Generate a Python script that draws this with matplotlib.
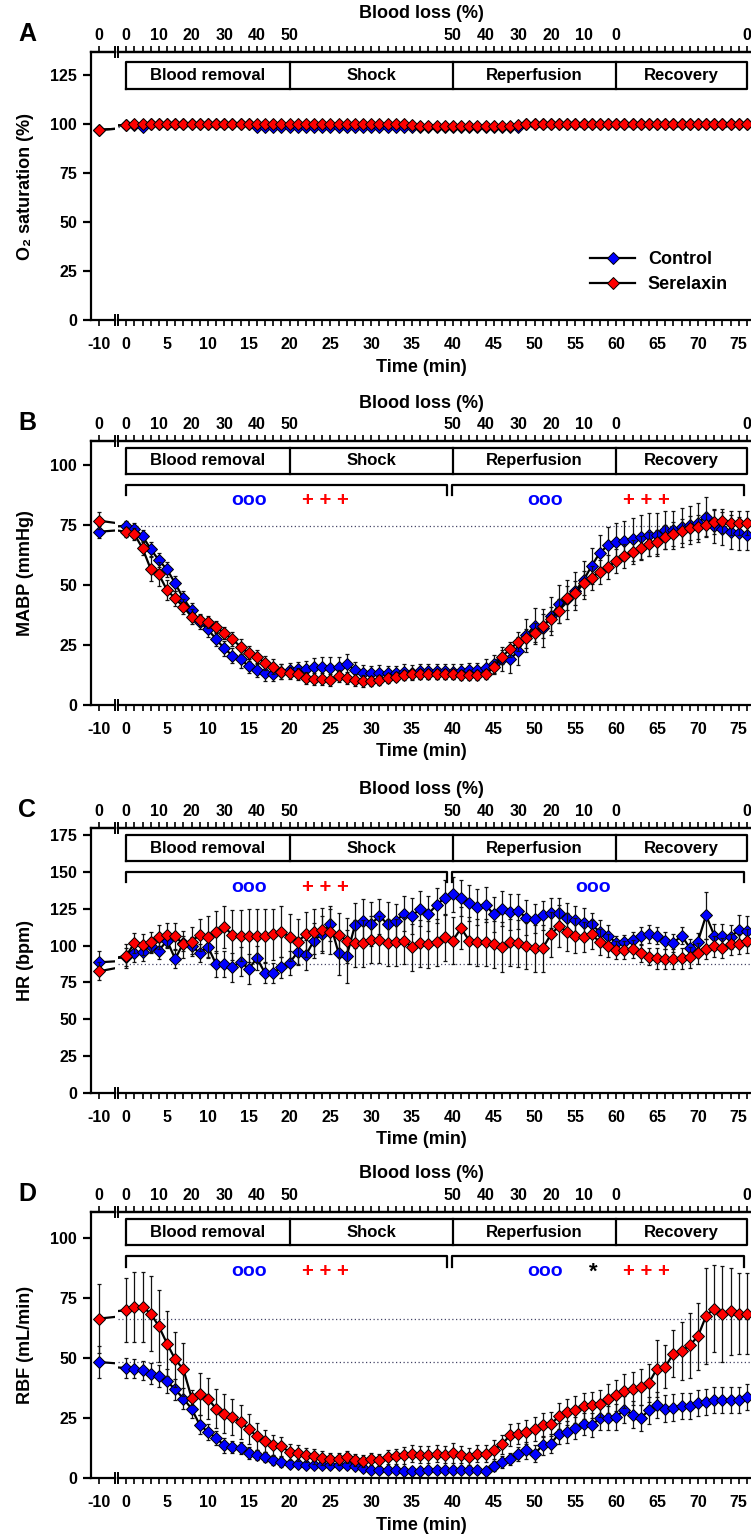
import matplotlib
matplotlib.use('Agg')
import matplotlib.pyplot as plt
from matplotlib.lines import Line2D

plt.rcParams['font.family'] = ['Liberation Sans', 'DejaVu Sans']
plt.rcParams['font.weight'] = 'bold'

# ---------------- data ----------------
time_base = -10
minutes = list(range(0, 77))
time_tick_pos = [0, 5, 10, 15, 20, 25, 30, 35, 40, 45, 50, 55, 60, 65, 70, 75]
blood_loss_pos = [0, 4, 8, 12, 16, 20, 40, 44, 48, 52, 56, 60, 76]
blood_loss_lab = ["0", "10", "20", "30", "40", "50", "50", "40", "30", "20", "10", "0", "0"]
phases = ["Blood removal", "Shock", "Reperfusion", "Recovery"]
phase_edges = [0, 20, 40, 60, 76]

# Panel A: O2 saturation (%)
a_ctrl_base = 97.0
a_ctrl = [99.5, 99.5, 98.5, 99.8, 100, 100, 100, 100, 100, 100,
          100, 100, 100, 100, 100, 100, 98.5, 98.5, 98.5, 98.5,
          98.5, 98.5, 98.5, 98.5, 98.5, 98.5, 98.5, 98.5, 98.5, 98.5,
          98.5, 98.5, 98.5, 98.5, 98.5, 98.5, 98.5, 98.5, 98.5, 98.5,
          98.5, 98.5, 98.5, 98.5, 98.5, 98.5, 98.5, 98.5, 98.5, 100,
          100, 100, 100, 100, 100, 100, 100, 100, 100, 100,
          100, 100, 100, 100, 100, 100, 100, 100, 100, 100,
          100, 100, 100, 100, 100, 100, 100]
a_sl_base = 97.0
a_sl = [99.5, 100, 100, 100, 100, 100, 100, 100, 100, 100,
        100, 100, 100, 100, 100, 100, 100, 100, 100, 100,
        100, 100, 100, 100, 100, 100, 100, 100, 100, 100,
        100, 100, 100, 100, 100, 99.5, 99, 99, 99, 99,
        99, 99, 99, 99, 99, 99, 99, 99, 99.5, 100,
        100, 100, 100, 100, 100, 100, 100, 100, 100, 100,
        100, 100, 100, 100, 100, 100, 100, 100, 100, 100,
        100, 100, 100, 100, 100, 100, 100]

# Panel B: MABP (mmHg)
b_ctrl_base, b_ctrl_base_err = 72.2, 2.5
b_ctrl = [74.7, 73.3, 70.4, 65.0, 60.3, 56.5, 50.7, 44.4, 39.6, 34.7,
          31.5, 27.5, 23.6, 20.6, 19.0, 16.3, 14.6, 13.2, 12.9, 13.9,
          14.6, 14.9, 14.9, 15.7, 15.7, 15.4, 15.7, 17.1, 14.6, 13.5,
          13.2, 13.5, 13.2, 13.2, 13.9, 13.5, 14.0, 14.0, 14.0, 14.0,
          13.9, 14.2, 14.6, 14.6, 15.5, 17.0, 19.0, 19.0, 22.5, 29.0,
          33.0, 32.0, 37.0, 42.0, 44.0, 47.5, 52.0, 58.0, 63.5, 66.5,
          68.0, 68.5, 69.0, 70.0, 71.0, 71.0, 73.0, 73.0, 74.0, 75.0,
          76.0, 78.5, 74.5, 73.5, 72.0, 71.5, 71.0]
b_ctrl_err = [2, 2.5, 2.5, 3, 3, 3, 3, 3, 3, 3,
              3, 3, 3, 3, 3.5, 3, 3, 3, 3, 3,
              3, 3, 3.5, 4, 4.5, 4.5, 4.5, 4, 3.5, 3,
              3, 3, 3, 3, 3, 3, 3, 3, 3, 3,
              3, 3, 3, 3, 3.5, 4, 5, 5.5, 6, 7,
              7.5, 8, 8, 8, 8, 8, 8, 7.5, 7.5, 7.5,
              8, 8, 9, 9, 9, 9, 8, 8, 8, 8,
              8, 8, 7, 7, 7, 7, 6.5]
b_sl_base, b_sl_base_err = 76.8, 3.5
b_sl = [72.2, 71.2, 65.3, 56.7, 54.4, 47.9, 44.4, 41.0, 36.8, 35.4,
        34.4, 32.6, 29.9, 27.4, 24.3, 21.5, 19.9, 17.6, 16.0, 13.9,
        13.2, 12.9, 11.4, 10.8, 10.8, 10.4, 12.1, 11.4, 10.4, 10.0,
        10.0, 10.4, 11.1, 11.8, 12.5, 12.8, 12.8, 12.8, 12.8, 12.8,
        12.8, 12.5, 12.5, 12.5, 12.8, 15.7, 20.1, 23.2, 26.4, 27.8,
        30.1, 33.0, 36.0, 39.2, 44.4, 46.5, 50.7, 53.0, 55.6, 57.4,
        60.1, 62.2, 63.6, 65.6, 66.9, 67.8, 70.1, 71.1, 72.6, 73.6,
        74.3, 75.0, 76.1, 76.7, 76.0, 75.7, 75.7]
b_sl_err = [2, 2.5, 3, 5, 5, 4, 3, 3, 3, 2.5,
            2.5, 2.5, 2.5, 3, 3, 3, 3, 3, 3, 3,
            2.5, 2.5, 2.5, 2.5, 2.5, 2.5, 2.5, 2.5, 2.5, 2.5,
            2, 2, 2, 2, 2, 2, 2, 2, 2, 2,
            2, 2, 2, 2, 2, 2.5, 3, 3, 4, 4,
            4, 5, 5, 5, 5, 5, 5, 5, 5, 5,
            5, 5, 5, 5, 5, 5, 5, 5, 5, 5,
            5, 5, 5, 5, 5, 5, 5]

# Panel C: HR (bpm)
c_ctrl_base, c_ctrl_base_err = 88.6, 8
c_ctrl = [92.0, 94.8, 95.5, 100.0, 96.6, 103.4, 90.9, 101.6, 100.0, 94.8,
          99.3, 87.5, 87.5, 85.2, 89.1, 84.1, 91.4, 81.4, 81.4, 85.2,
          88.2, 95.5, 93.6, 103.4, 108.0, 114.8, 95.0, 92.7, 113.6, 116.4,
          114.8, 119.8, 114.8, 116.4, 121.6, 120.0, 125.0, 121.6, 127.3, 132.5,
          134.8, 132.3, 128.9, 126.1, 127.7, 121.1, 125.0, 122.7, 123.2, 118.9,
          118.2, 120.5, 122.0, 122.0, 118.6, 117.0, 115.2, 114.3, 109.1, 106.8,
          101.6, 102.3, 103.9, 106.4, 108.0, 106.8, 103.4, 101.6, 106.8, 98.4,
          102.7, 120.5, 106.8, 106.8, 105.7, 110.7, 109.8]
c_ctrl_err = [6, 6, 6, 5, 6, 5, 6, 5, 6, 6,
              7, 9, 9, 10, 10, 10, 8, 7, 7, 7,
              8, 9, 10, 12, 12, 12, 15, 18, 15, 15,
              15, 12, 15, 12, 12, 12, 12, 12, 12, 12,
              12, 12, 12, 12, 12, 12, 12, 12, 12, 12,
              10, 10, 10, 10, 10, 10, 10, 8, 8, 7,
              5, 5, 5, 6, 6, 6, 6, 6, 6, 6,
              6, 16, 8, 8, 8, 10, 10]
c_sl_base, c_sl_base_err = 82.5, 6
c_sl = [93.0, 101.6, 100.5, 102.3, 105.7, 107.3, 106.4, 100.7, 102.7, 107.3,
        105.7, 109.1, 112.5, 107.3, 106.8, 106.8, 106.8, 106.8, 107.5, 109.5,
        105.7, 102.7, 107.5, 109.5, 110.2, 109.5, 107.3, 103.4, 101.6, 101.6,
        104.0, 104.0, 101.8, 102.3, 103.4, 98.9, 101.6, 100.7, 102.3, 105.7,
        103.4, 111.8, 103.4, 102.3, 102.3, 100.7, 98.9, 102.3, 101.6, 100.0,
        98.2, 98.2, 107.5, 113.2, 109.1, 106.8, 105.7, 107.5, 102.3, 100.0,
        97.0, 97.0, 97.7, 94.8, 92.5, 91.4, 90.9, 90.9, 91.4, 92.0,
        94.8, 97.7, 99.5, 98.4, 100.7, 101.1, 103.0]
c_sl_err = [8, 7, 7, 7, 8, 8, 9, 9, 10, 11,
            14, 14, 14, 17, 17, 18, 18, 18, 17, 17,
            16, 15, 15, 15, 15, 15, 15, 15, 16, 16,
            16, 16, 16, 16, 16, 16, 16, 16, 16, 16,
            16, 14, 16, 16, 16, 16, 17, 16, 16, 16,
            16, 16, 15, 14, 13, 12, 10, 10, 9, 8,
            6, 6, 6, 6, 6, 7, 7, 7, 7, 7,
            7, 7, 7, 7, 7, 7, 8]

# Panel D: RBF (mL/min)
d_ctrl_base, d_ctrl_base_err = 48.3, 6.5
d_ctrl = [45.8, 45.6, 44.9, 43.5, 42.4, 40.3, 36.9, 33.1, 28.9, 22.2,
          19.2, 16.7, 13.6, 12.9, 12.5, 10.4, 9.7, 8.8, 7.4, 6.7,
          6.0, 6.0, 5.6, 5.6, 5.6, 5.3, 5.3, 5.3, 4.9, 4.2,
          3.5, 3.5, 3.2, 3.5, 2.9, 2.9, 2.9, 3.2, 3.2, 3.2,
          3.2, 3.5, 3.5, 3.5, 2.9, 4.9, 6.7, 8.1, 10.1, 11.5,
          10.1, 13.6, 14.3, 18.5, 19.2, 20.8, 22.4, 21.9, 25.0, 25.0,
          25.4, 28.5, 26.4, 25.0, 28.2, 30.3, 28.9, 29.3, 29.9, 29.9,
          31.3, 31.7, 32.4, 32.4, 32.6, 32.6, 33.8]
d_ctrl_err = [4, 4, 4, 4.5, 4.5, 5, 4.5, 4.5, 4, 4,
              3.5, 3, 3, 2.5, 2.5, 2.5, 2, 2, 2, 2,
              1.5, 1.5, 1.5, 1.5, 1.5, 1.5, 1.5, 1.5, 1.5, 1.5,
              1.5, 1.5, 1.5, 1.5, 1.5, 1.5, 1.5, 1.5, 1.5, 1.5,
              1.5, 1.5, 1.5, 1.5, 1.5, 2, 2.5, 2.5, 3, 3.5,
              3.5, 4, 4, 4.5, 4.5, 4.5, 4.5, 5, 5, 5,
              5.5, 5.5, 5.5, 5.5, 5.5, 5.5, 5.5, 5.5, 5.5, 5.5,
              5.5, 5.5, 5.5, 5.5, 5.5, 5.5, 5.5]
d_sl_base, d_sl_base_err = 66.4, 14.5
d_sl = [69.9, 71.3, 71.3, 68.5, 63.2, 56.0, 49.4, 45.3, 33.5, 35.1,
        33.1, 28.9, 26.8, 25.4, 23.3, 20.4, 17.4, 15.3, 13.6, 13.2,
        10.8, 10.4, 9.7, 9.0, 8.3, 8.1, 8.1, 8.8, 7.6, 6.9,
        8.1, 7.4, 8.8, 9.0, 9.4, 10.1, 9.7, 9.7, 10.1, 9.7,
        10.4, 9.7, 8.8, 10.1, 10.1, 11.8, 14.0, 17.8, 18.5, 19.2,
        20.6, 21.9, 22.4, 25.8, 27.5, 28.5, 29.9, 30.3, 31.0, 33.1,
        34.4, 36.3, 37.2, 37.9, 39.6, 45.6, 46.3, 51.8, 52.8, 55.3,
        59.0, 67.5, 70.6, 68.2, 69.4, 68.5, 68.5]
d_sl_err = [13.3, 14.7, 14.7, 15.5, 15, 13.6, 11.4, 11, 3, 8.7,
            8.6, 8, 8, 7.6, 7, 6.4, 5.6, 4.5, 4.5, 4,
            3.5, 3.5, 3, 3, 3, 2.5, 2.5, 2.5, 2.5, 2.5,
            2.5, 2.5, 3, 3, 3.5, 3.5, 3.5, 3.5, 3.5, 3.5,
            4, 3.5, 3.5, 3.5, 3.5, 4, 4, 4.5, 4.5, 5,
            5, 5, 5, 5.5, 5.5, 5.5, 5.5, 5.5, 5.5, 6,
            6.5, 7, 7, 7.5, 8, 11.8, 9, 9.7, 12, 13.6,
            14, 20, 18, 20, 18, 17, 17]

# ---------------- layout ----------------
W, H = 751, 1537
fig = plt.figure(figsize=(W / 100, H / 100), dpi=100)

BLUE = '#0000FF'
RED = '#FF0000'
SPINE_LW = 1.6
TICK_FS = 11.5
LAB_FS = 13
MS = 6.2
LW = 1.6


def fx(px):
    return px / W


def fy(py):
    return 1 - py / H


def style_axes(ax):
    for s in ax.spines.values():
        s.set_linewidth(SPINE_LW)


def draw_series(axL, axR, base, base_err, vals, errs, color, z):
    xs = [time_base] + minutes
    ys = [base] + list(vals)
    es = [base_err] + list(errs) if errs is not None else None
    for ax in (axL, axR):
        if es is not None:
            ax.errorbar(xs, ys, yerr=es, fmt='none', ecolor='#111111', elinewidth=0.9,
                        capsize=1.7, capthick=0.9, zorder=z)
        ax.plot(xs, ys, color='k', lw=LW, marker='D', ms=MS, mfc=color,
                mec='k', mew=0.7, zorder=z + 1)


def panel(letter, top, bot, ymax, yticks, ylabel, ctrl, sl, refs, brackets, syms):
    h = bot - top
    axL = fig.add_axes([fx(91), fy(bot), fx(115) - fx(91), h / H])
    axR = fig.add_axes([fx(118), fy(bot), fx(751) - fx(118), h / H])
    for ax in (axL, axR):
        ax.set_ylim(0, ymax)
        style_axes(ax)
        ax.patch.set_alpha(0)
    axL.set_xlim(-11, -8)
    axR.set_xlim(-1, 76.5)

    # left small axes
    axL.spines['right'].set_visible(False)
    axL.set_yticks(yticks)
    axL.set_yticklabels([str(v) for v in yticks], fontsize=TICK_FS, fontweight='bold')
    axL.tick_params(axis='y', direction='out', length=6, width=1.6, pad=4)
    axL.set_xticks([time_base])
    axL.set_xticklabels(['-10'], fontsize=TICK_FS, fontweight='bold')
    axL.tick_params(axis='x', direction='out', length=4.5, width=1.2, pad=8)
    secL = axL.secondary_xaxis('top')
    secL.set_xticks([time_base])
    secL.set_xticklabels(['0'], fontsize=TICK_FS, fontweight='bold')
    secL.tick_params(direction='out', length=4, width=1.2, pad=2.5)
    secL.spines['top'].set_linewidth(SPINE_LW)

    # main axes
    axR.spines['left'].set_visible(False)
    axR.spines['right'].set_visible(False)
    axR.tick_params(axis='y', left=False, labelleft=False)
    axR.set_xticks(minutes)
    axR.set_xticklabels([str(m) if m in time_tick_pos else '' for m in minutes],
                        fontsize=TICK_FS, fontweight='bold')
    axR.tick_params(axis='x', direction='out', length=4.5, width=1.2, pad=8)
    secR = axR.secondary_xaxis('top')
    secR.set_xticks(minutes)
    secR.set_xticklabels([blood_loss_lab[blood_loss_pos.index(m)] if m in blood_loss_pos else ''
                          for m in minutes], fontsize=TICK_FS, fontweight='bold')
    secR.tick_params(direction='out', length=4, width=1.2, pad=2.5)
    secR.spines['top'].set_linewidth(SPINE_LW)

    # reference lines
    for r in refs:
        axR.axhline(r, ls=(0, (1, 2)), color='#444466', lw=0.9, zorder=1)

    # series
    draw_series(axL, axR, *ctrl, BLUE, 2)
    draw_series(axL, axR, *sl, RED, 4)

    # phase boxes
    tr = axR.get_xaxis_transform()
    if letter == 'A':
        b0, b1 = 0.862, 0.963
    else:
        b0, b1 = 0.876, 0.973
    axR.plot([phase_edges[0], phase_edges[-1], phase_edges[-1], phase_edges[0], phase_edges[0]],
             [b0, b0, b1, b1, b0], transform=tr, color='k', lw=1.6, clip_on=False, zorder=6)
    for e in phase_edges[1:-1]:
        axR.plot([e, e], [b0, b1], transform=tr, color='k', lw=1.6, clip_on=False, zorder=6)
    for i, name in enumerate(phases):
        axR.text((phase_edges[i] + phase_edges[i + 1]) / 2, (b0 + b1) / 2, name,
                 transform=tr, ha='center', va='center', fontsize=12, fontweight='bold')

    # brackets and significance symbols
    if brackets:
        yb, yt = 0.795, 0.835
        for x0, x1 in [(0, 39.3), (39.9, 75.7)]:
            axR.plot([x0, x0, x1, x1], [yb, yt, yt, yb], transform=tr, color='k', lw=1.6,
                     clip_on=False, zorder=6)
        for x, s, c, fs in syms:
            axR.text(x, 0.775, s, transform=tr, ha='center', va='center', color=c,
                     fontsize=fs, fontweight='bold')

    # break marks
    for xp in (115, 118):
        for yp in (top, bot):
            fig.add_artist(Line2D([fx(xp), fx(xp)], [fy(yp - 5), fy(yp + 5)],
                                  transform=fig.transFigure, color='k', lw=1.4))

    # labels
    fig.text(fx(27), fy(top - 18), letter, fontsize=18, fontweight='bold', ha='center', va='center')
    fig.text(fx(421), fy(top - 38), 'Blood loss (%)', fontsize=LAB_FS, fontweight='bold',
             ha='center', va='center')
    fig.text(fx(421), fy(bot + 47), 'Time (min)', fontsize=LAB_FS, fontweight='bold',
             ha='center', va='center')
    fig.text(fx(25), fy((top + bot) / 2), ylabel, fontsize=LAB_FS, fontweight='bold',
             ha='center', va='center', rotation=90)
    return axL, axR


sym_first = [(15, 'ooo', BLUE, 14), (24.4, '+ + +', RED, 14.5)]

axA = panel('A', 52, 320, 136.7, [0, 25, 50, 75, 100, 125], 'O₂ saturation (%)',
            (a_ctrl_base, None, a_ctrl, None), (a_sl_base, None, a_sl, None),
            [98.5], False, [])
panel('B', 441, 705, 110, [0, 25, 50, 75, 100], 'MABP (mmHg)',
      (b_ctrl_base, b_ctrl_base_err, b_ctrl, b_ctrl_err),
      (b_sl_base, b_sl_base_err, b_sl, b_sl_err),
      [74.7], True, sym_first + [(51.3, 'ooo', BLUE, 14), (63.7, '+ + +', RED, 14.5)])
panel('C', 828, 1093, 179.7, [0, 25, 50, 75, 100, 125, 150, 175], 'HR (bpm)',
      (c_ctrl_base, c_ctrl_base_err, c_ctrl, c_ctrl_err),
      (c_sl_base, c_sl_base_err, c_sl, c_sl_err),
      [87.5], True, sym_first + [(57.2, 'ooo', BLUE, 14)])
panel('D', 1212, 1478, 110.8, [0, 25, 50, 75, 100], 'RBF (mL/min)',
      (d_ctrl_base, d_ctrl_base_err, d_ctrl, d_ctrl_err),
      (d_sl_base, d_sl_base_err, d_sl, d_sl_err),
      [66.4, 48.3], True, sym_first + [(51.3, 'ooo', BLUE, 14), (57.2, '*', 'k', 16),
                                       (63.7, '+ + +', RED, 14.5)])

# legend in panel A
handles = [Line2D([], [], color='k', lw=LW, marker='D', ms=MS, mfc=BLUE, mec='k', mew=0.7),
           Line2D([], [], color='k', lw=LW, marker='D', ms=MS, mfc=RED, mec='k', mew=0.7)]
fig.legend(handles, ['Control', 'Serelaxin'], loc='upper left',
           bbox_to_anchor=(fx(590), fy(251)), frameon=False,
           handlelength=2.5, handletextpad=0.7, labelspacing=0.45, borderpad=0,
           borderaxespad=0, prop={'weight': 'bold', 'size': 13})

fig.savefig('out.png', dpi=100)
